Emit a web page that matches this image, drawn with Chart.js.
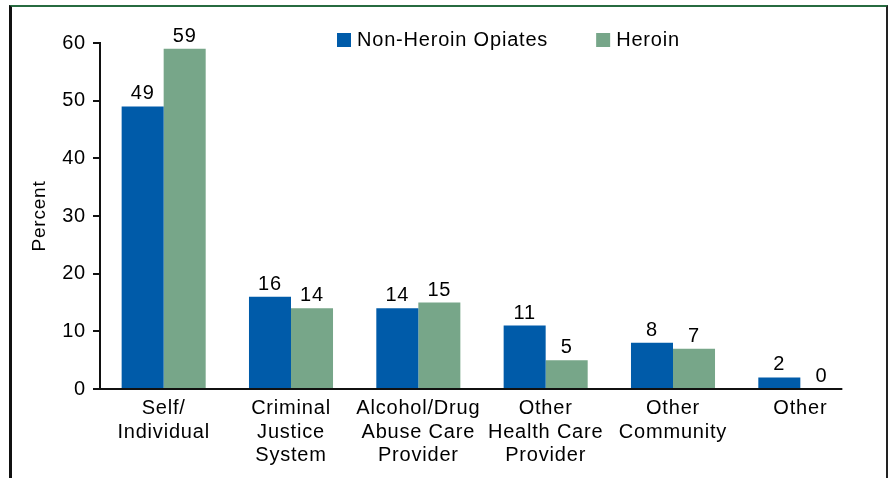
<!DOCTYPE html>
<html>
<head>
<meta charset="utf-8">
<script src="https://cdn.jsdelivr.net/npm/chart.js@4"></script>
<style>
  html, body { margin: 0; padding: 0; background: #fff; }
  #wrap { position: relative; width: 888px; height: 478px; }
  #frame {
    position: absolute; left: 9px; top: 5px; width: 874px; height: 480px;
    border-top: 2px solid #276b40; border-left: 3px solid #111; border-right: 2px solid #222;
  }
  canvas { position: absolute; left: 0; top: 0; }
</style>
</head>
<body>
<div id="wrap">
  <div id="frame"></div>
  <canvas id="chart" width="888" height="478"></canvas>
</div>
<script>
// categorias e valores (percent)
const categories = [
    ['Self/', 'Individual'],
    ['Criminal', 'Justice', 'System'],
    ['Alcohol/Drug', 'Abuse Care', 'Provider'],
    ['Other', 'Health Care', 'Provider'],
    ['Other', 'Community'],
    ['Other']
];
const nonHeroinOpiates = [49, 16, 14, 11, 8, 2];
const heroin = [59, 14, 15, 5, 7, 0];
const yTicks = [0, 10, 20, 30, 40, 50, 60];

const FONT = 'Arial, "Liberation Sans", Helvetica, sans-serif';
const SPACING = '0.8px';
const INK = '#000';

// letter spacing (the original text looks a bit wider than Arial)
const spacingPlugin = {
    id: 'spacing',
    beforeLayout(chart) { chart.ctx.letterSpacing = SPACING; },
    beforeDraw(chart) { chart.ctx.letterSpacing = SPACING; }
};

// valores acima das barras + linha do eixo x + legenda
const extrasPlugin = {
    id: 'extras',
    afterDatasetsDraw(chart) {
        const ctx = chart.ctx;
        const y0 = chart.scales.y.getPixelForValue(0);
        ctx.save();
        ctx.letterSpacing = SPACING;
        ctx.font = '20px ' + FONT;
        ctx.fillStyle = INK;
        ctx.textAlign = 'center';
        ctx.textBaseline = 'alphabetic';
        chart.data.datasets.forEach((ds, i) => {
            chart.getDatasetMeta(i).data.forEach((bar, j) => {
                ctx.fillText(String(ds.data[j]), bar.x, bar.y - 7);
            });
        });

        // x axis line ends at the last bar
        const lastMeta = chart.getDatasetMeta(chart.data.datasets.length - 1);
        const lastBar = lastMeta.data[lastMeta.data.length - 1];
        ctx.strokeStyle = '#111';
        ctx.lineWidth = 2;
        ctx.beginPath();
        ctx.moveTo(chart.chartArea.left - 1, y0);
        ctx.lineTo(lastBar.x + lastBar.width / 2, y0);
        ctx.stroke();

        // legend
        let x = 337;
        const ly = 40;
        ctx.textAlign = 'left';
        ctx.textBaseline = 'middle';
        chart.data.datasets.forEach(ds => {
            ctx.fillStyle = ds.backgroundColor;
            ctx.fillRect(x, ly - 7, 14, 14);
            ctx.fillStyle = INK;
            ctx.fillText(ds.label, x + 20, ly);
            x += 20 + ctx.measureText(ds.label).width + 48;
        });
        ctx.restore();
    }
};

new Chart(document.getElementById('chart'), {
    type: 'bar',
    data: {
        labels: categories,
        datasets: [
            { label: 'Non-Heroin Opiates', data: nonHeroinOpiates, backgroundColor: '#005ba9' },
            { label: 'Heroin', data: heroin, backgroundColor: '#77a689' }
        ]
    },
    options: {
        responsive: false,
        animation: false,
        categoryPercentage: 0.66,
        barPercentage: 1,
        layout: { padding: { left: 0, right: 24, top: 43, bottom: 0 } },
        plugins: {
            legend: { display: false },
            tooltip: { enabled: false }
        },
        scales: {
            x: {
                grid: { display: false },
                border: { display: false },
                ticks: {
                    color: INK,
                    padding: 0,
                    maxRotation: 0,
                    autoSkip: false,
                    font: { family: FONT, size: 20, lineHeight: 1.17 }
                },
                afterFit(scale) { scale.height = 89; }
            },
            y: {
                min: 0,
                max: 60,
                afterBuildTicks(scale) { scale.ticks = yTicks.map(v => ({ value: v })); },
                grid: {
                    drawOnChartArea: false,
                    tickLength: 7,
                    color: '#111',
                    lineWidth: 2
                },
                border: { display: true, color: '#111', width: 2 },
                ticks: {
                    color: INK,
                    padding: 7,
                    font: { family: FONT, size: 20 }
                },
                title: {
                    display: true,
                    text: 'Percent',
                    color: INK,
                    padding: { top: 28, bottom: 0 },
                    font: { family: FONT, size: 19 }
                },
                afterFit(scale) { scale.width = 100; }
            }
        }
    },
    plugins: [spacingPlugin, extrasPlugin]
});
</script>
</body>
</html>
